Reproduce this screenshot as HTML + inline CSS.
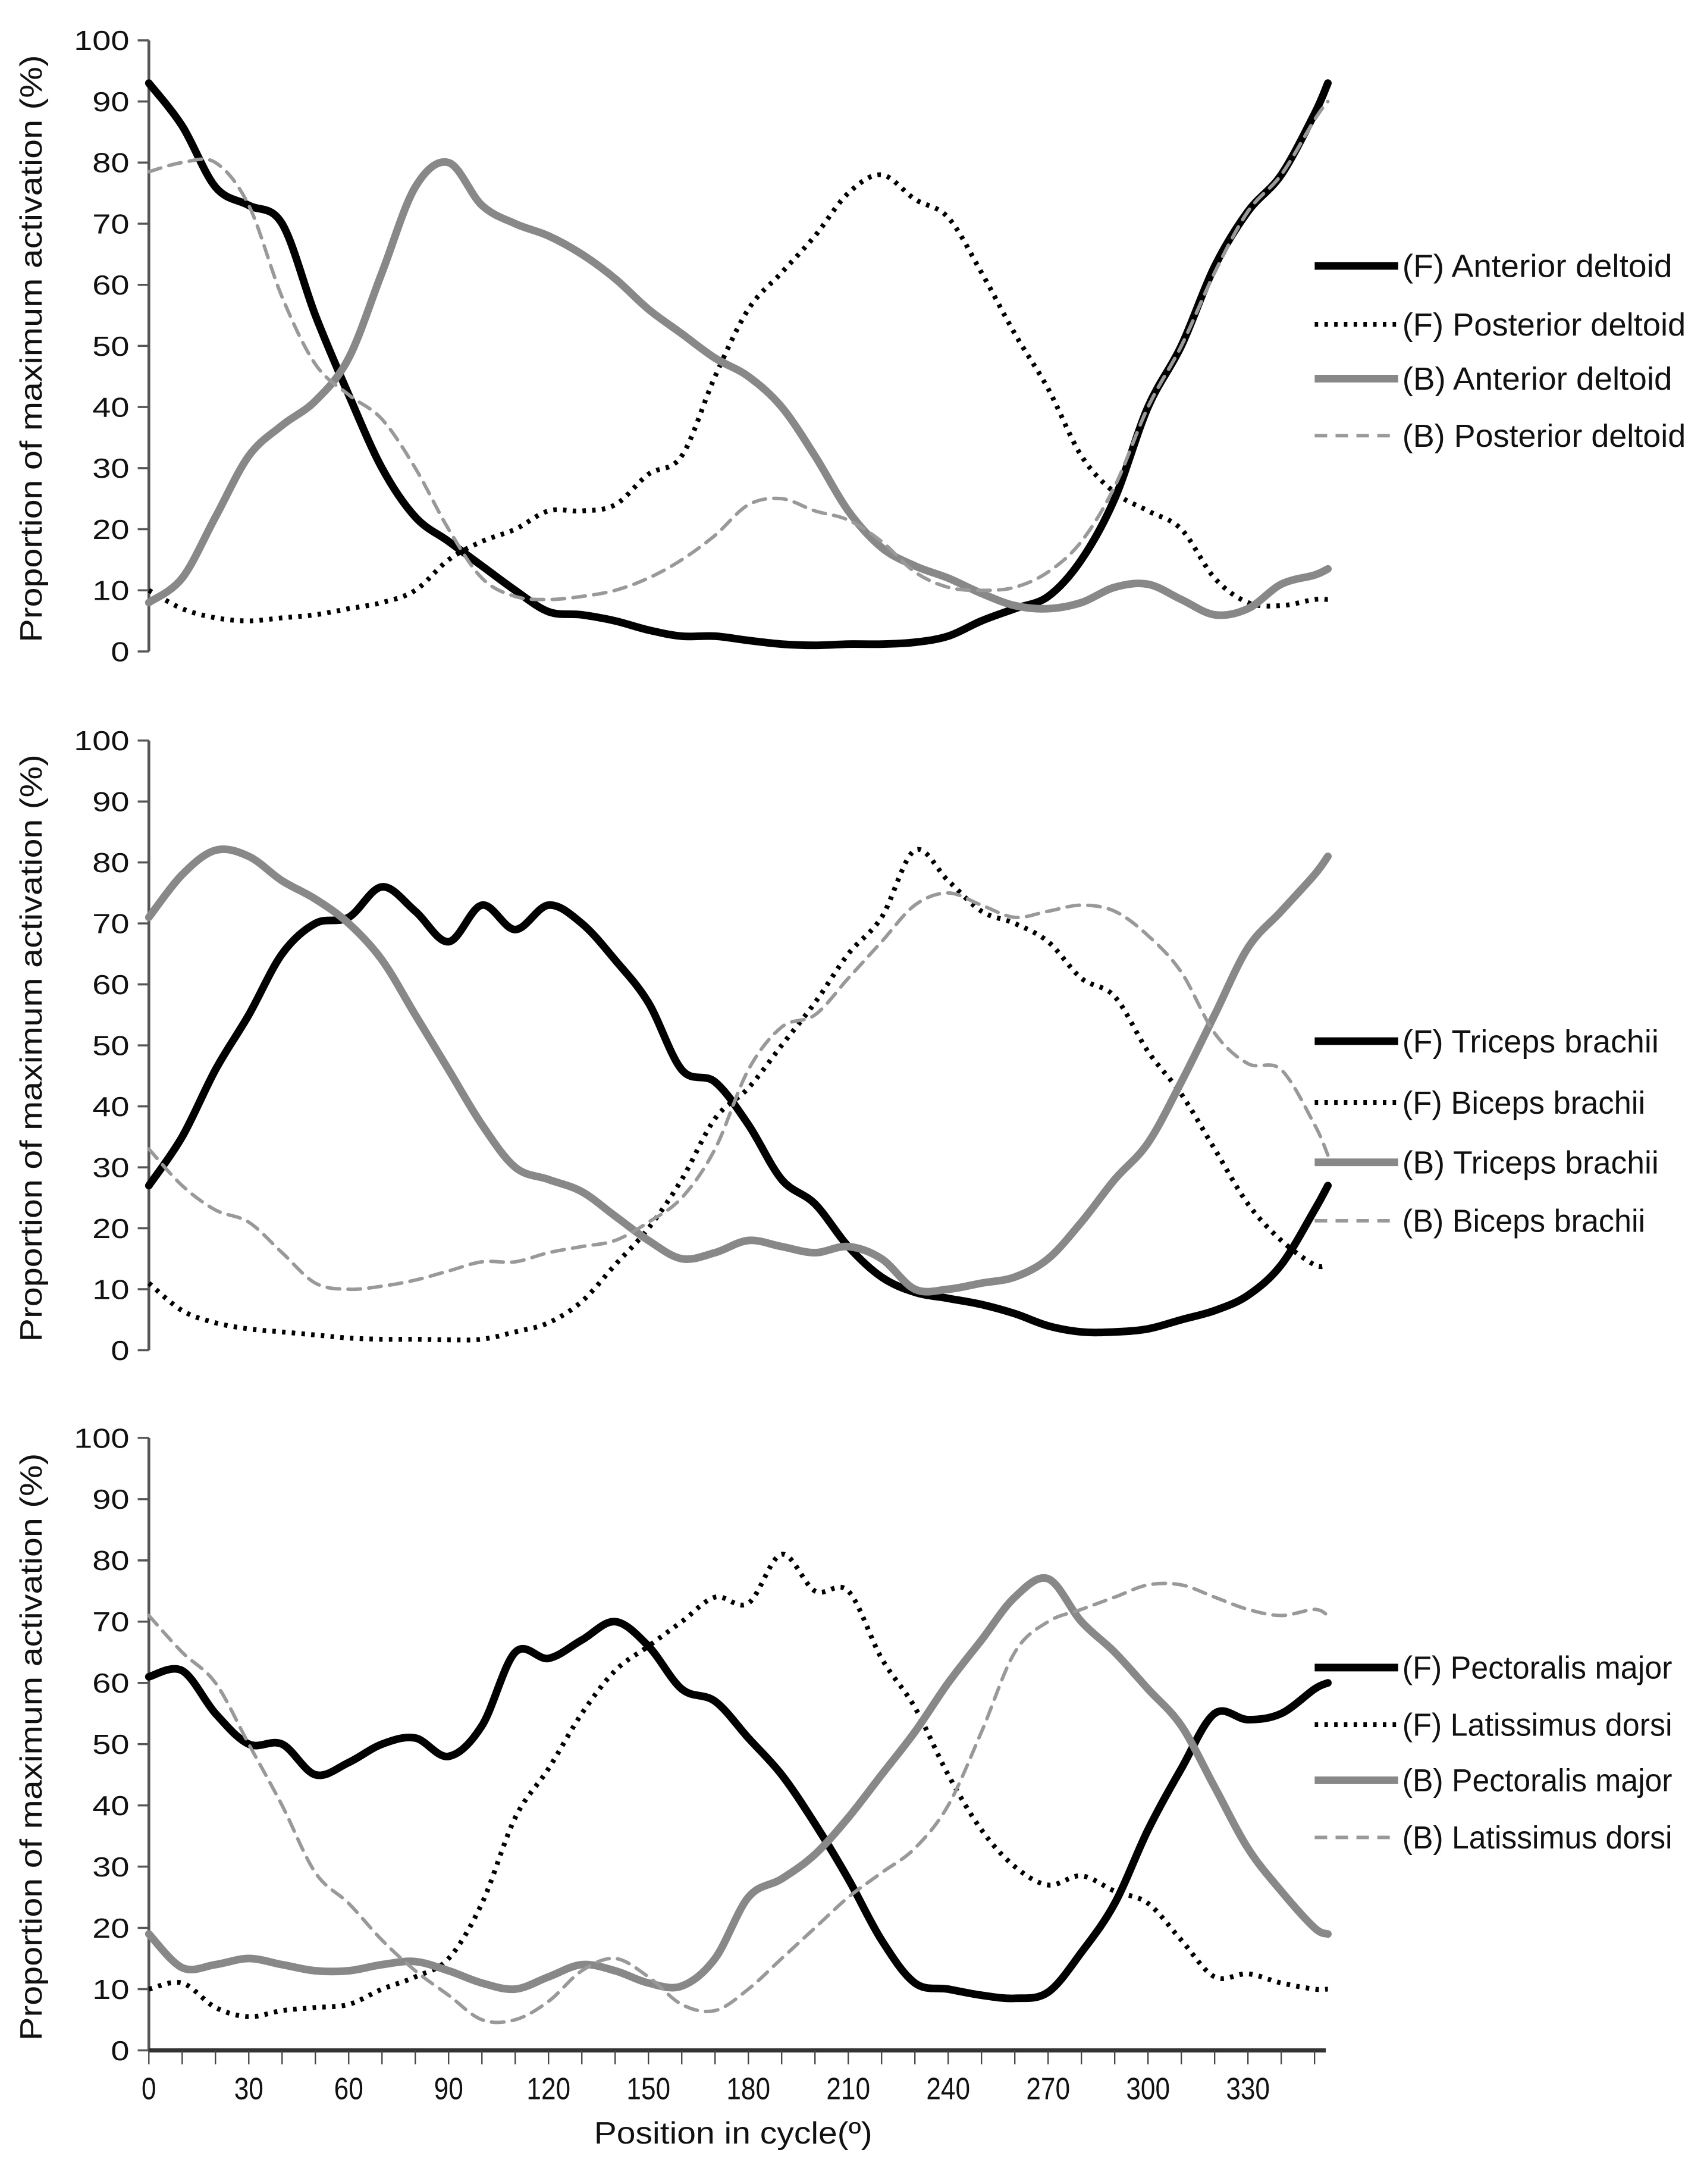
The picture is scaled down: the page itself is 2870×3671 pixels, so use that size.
<!DOCTYPE html>
<html><head><meta charset="utf-8"><style>
html,body{margin:0;padding:0;background:#fff;}
svg{display:block;font-family:"Liberation Sans",sans-serif;}
</style></head><body>
<svg id="chart" width="2870" height="3671" viewBox="0 0 1227 1569" preserveAspectRatio="none" xmlns="http://www.w3.org/2000/svg"></svg>
<script>
const positions=[0,10,20,30,40,50,60,70,80,90,100,110,120,130,140,150,160,170,180,190,200,210,220,230,240,250,260,270,280,290,300,310,320,330,340,350,354];
const yTicks=[0,10,20,30,40,50,60,70,80,90,100];
const xTickLabels=[0,30,60,90,120,150,180,210,240,270,300,330];
// Panel 1
const fAntDelt=[93,86,76,73,70,55,42,30,22,18,14,10,6.5,6,5,3.5,2.5,2.5,1.8,1.2,1,1.2,1.2,1.5,2.5,5,7,9,15,25,40,50,63,72,78,88,93];
const fPostDelt=[10,7,5.5,5,5.5,6,7,8,10,15,18,20,23,23,24,29,32,45,56,62,68,75,78,74,71,62,52,43,32,26,23,20,12,8,7.5,8.5,8.5];
const bAntDelt=[8,12,22,32,37,41,48,62,76,80,73,70,68,65,61,56,52,48,45,40,32,23,17,14,12,9.5,7.5,7,8,10.5,11,8.5,6,7,11,12.5,13.5];
const bPostDelt=[78.5,80,80,73,58,47,42,38,30,20,12,9,8.5,9,10,12,15,19,24,25,23,21.5,18,13,10.5,10,10.5,13,18,27,40,50,62,72,78,87,90];
// Panel 2
const fTri=[27,35,46,55,65,70,71,76,72,67,73,69,73,70,64,57,46,44,37,28,24,17,12,9.5,8.5,7.5,6,4,3,3,3.5,5,6.5,9,14,23,27];
const fBi=[11,6.5,4.5,3.5,3,2.5,2,1.8,1.8,1.7,1.8,3,4.5,8,14,20,28,38,43,50,57,65,71,82,77,72,70,67,61,58,49,42,33,24,18,14,14];
const bTri=[71,78,82,81,77,74,70,64,55,46,37,30,28,26,22,18,15,16,18,17,16,17,15,10,10,11,12,15,21,28,34,44,55,66,72,78,81];
const bBi=[33,27,23,21,16,11,10,10.5,11.5,13,14.5,14.5,16,17,18,21,25,33,46,53,55,61,67,73,75,73,71,72,73,72,68,62,52,47,46,37,32];
// Panel 3
const fPec=[61,62,55,50,50,45,47,50,51,48,53,65,64,67,70,66,59,57,51,45,37,28,18,11,10,9,8.5,9.5,16,24,36,46,55,54,55,59,60];
const fLat=[10,11,7,5.5,6.5,7,7.5,10,12,15,24,38,46,55,62,66,70,74,73,81,75,75,64,56,45,36,30,27,28.5,26,24,18,12,12.5,11,10,10];
const bPec=[19,13.5,14,15,14,13,13,14,14.5,13,11,10,12,14,13,11,10.5,15,25,28,32,38,45,52,60,67,74,77,70,65,59,53,43,33,26,20,19];
const bLat=[71,65,60,50,40,29,24,18,13,9,5,5,8,13,15,12,7.5,6.5,10,15,20,25,29,33,40,52,65,70,72,74,76,76,74,72,71,72,71];

const svg=document.getElementById('chart');
const NS='http://www.w3.org/2000/svg';
const X0=107, PX=2.394;
const xs=d=>X0+d*PX;
const styles={
 fs:{stroke:'#000',w:5.5,dash:null},
 fd:{stroke:'#000',w:3.5,dash:'2.5 4.5'},
 bs:{stroke:'#888',w:5.5,dash:null},
 bd:{stroke:'#999',w:2.5,dash:'9 6'}
};
function el(tag,attrs){const e=document.createElementNS(NS,tag);for(const k in attrs)e.setAttribute(k,attrs[k]);svg.appendChild(e);return e;}
function fit(t,len){t.setAttribute('textLength',len);t.setAttribute('lengthAdjust','spacingAndGlyphs');}
function smoothPath(pts){let d=`M${pts[0][0]},${pts[0][1]}`;for(let i=0;i<pts.length-1;i++){const p0=pts[i-1]||pts[i],p1=pts[i],p2=pts[i+1],p3=pts[i+2]||p2;const c1=[p1[0]+(p2[0]-p0[0])/6,p1[1]+(p2[1]-p0[1])/6],c2=[p2[0]-(p3[0]-p1[0])/6,p2[1]-(p3[1]-p1[1])/6];d+=` C${c1[0]},${c1[1]} ${c2[0]},${c2[1]} ${p2[0]},${p2[1]}`;}return d;}
function panel(idx,top,bottom,series,legendYs,names,withX){
 const ys=v=>bottom-(bottom-top)*v/100;
 const ax=el('line',{x1:X0,y1:top,x2:X0,y2:bottom,stroke:'#555','stroke-width':2});
 
 
 yTicks.forEach(t=>{
  const tk=el('line',{x1:X0-8,y1:ys(t),x2:X0,y2:ys(t),stroke:'#555','stroke-width':1.5});
  
  
  const tl=el('text',{x:X0-14,y:ys(t)+7,'text-anchor':'end','font-size':20,fill:'#111'});
  tl.textContent=t;
  
  
  fit(tl,String(t).length*13.3);
 });
 const yt=el('text',{x:0,y:0,'text-anchor':'middle','font-size':22,fill:'#111',transform:`translate(30,${(top+bottom)/2+2}) rotate(-90)`});
 yt.textContent='Proportion of maximum activation (%)';
 
 
 fit(yt,422);
 if(withX){
  const xa=el('line',{x1:X0,y1:bottom,x2:953,y2:bottom,stroke:'#333','stroke-width':3});
  
  
  for(let d=0;d<=354;d+=10){
   const tk=el('line',{x1:xs(d),y1:bottom,x2:xs(d),y2:bottom+10,stroke:'#444','stroke-width':1});
   
   
  }
  xTickLabels.forEach(t=>{
   const tl=el('text',{x:xs(t),y:bottom+35,'text-anchor':'middle','font-size':22,fill:'#111'});
   tl.textContent=t;
   
   
   fit(tl,String(t).length*10.5);
  });
  const xt=el('text',{x:527,y:bottom+67,'text-anchor':'middle','font-size':22,fill:'#111'});
  xt.textContent='Position in cycle(º)';
  
  
  fit(xt,200);
 }
 series.forEach((s,i)=>{
  const st=styles[s.k];
  const pts=positions.map((p,j)=>[xs(p),ys(s.v[j])]);
  const a={d:smoothPath(pts),fill:'none',stroke:st.stroke,'stroke-width':st.w,'stroke-linecap':st.dash&&s.k==='fd'?'butt':'round'};
  if(st.dash)a['stroke-dasharray']=st.dash;
  const p=el('path',a);
  
  
  const la={x1:945,y1:legendYs[i],x2:1005,y2:legendYs[i],stroke:st.stroke,'stroke-width':st.w};
  if(st.dash)la['stroke-dasharray']=st.dash;
  const ll=el('line',la);
  
  
  const lt=el('text',{x:1008,y:legendYs[i]+8,'font-size':23,fill:'#111'});
  lt.textContent=names[i];
  
  
  fit(lt,names[i].length*9.7);
 });
}
panel(1,29,468,[{k:'fs',v:fAntDelt},{k:'fd',v:fPostDelt},{k:'bs',v:bAntDelt},{k:'bd',v:bPostDelt}],[191,233,272,313],['(F) Anterior deltoid','(F) Posterior deltoid','(B) Anterior deltoid','(B) Posterior deltoid'],false);
panel(2,532,970,[{k:'fs',v:fTri},{k:'fd',v:fBi},{k:'bs',v:bTri},{k:'bd',v:bBi}],[748,792,835,877],['(F) Triceps brachii','(F) Biceps brachii','(B) Triceps brachii','(B) Biceps brachii'],false);
panel(3,1033,1473,[{k:'fs',v:fPec},{k:'fd',v:fLat},{k:'bs',v:bPec},{k:'bd',v:bLat}],[1198,1239,1279,1320],['(F) Pectoralis major','(F) Latissimus dorsi','(B) Pectoralis major','(B) Latissimus dorsi'],true);
</script>
</body></html>
